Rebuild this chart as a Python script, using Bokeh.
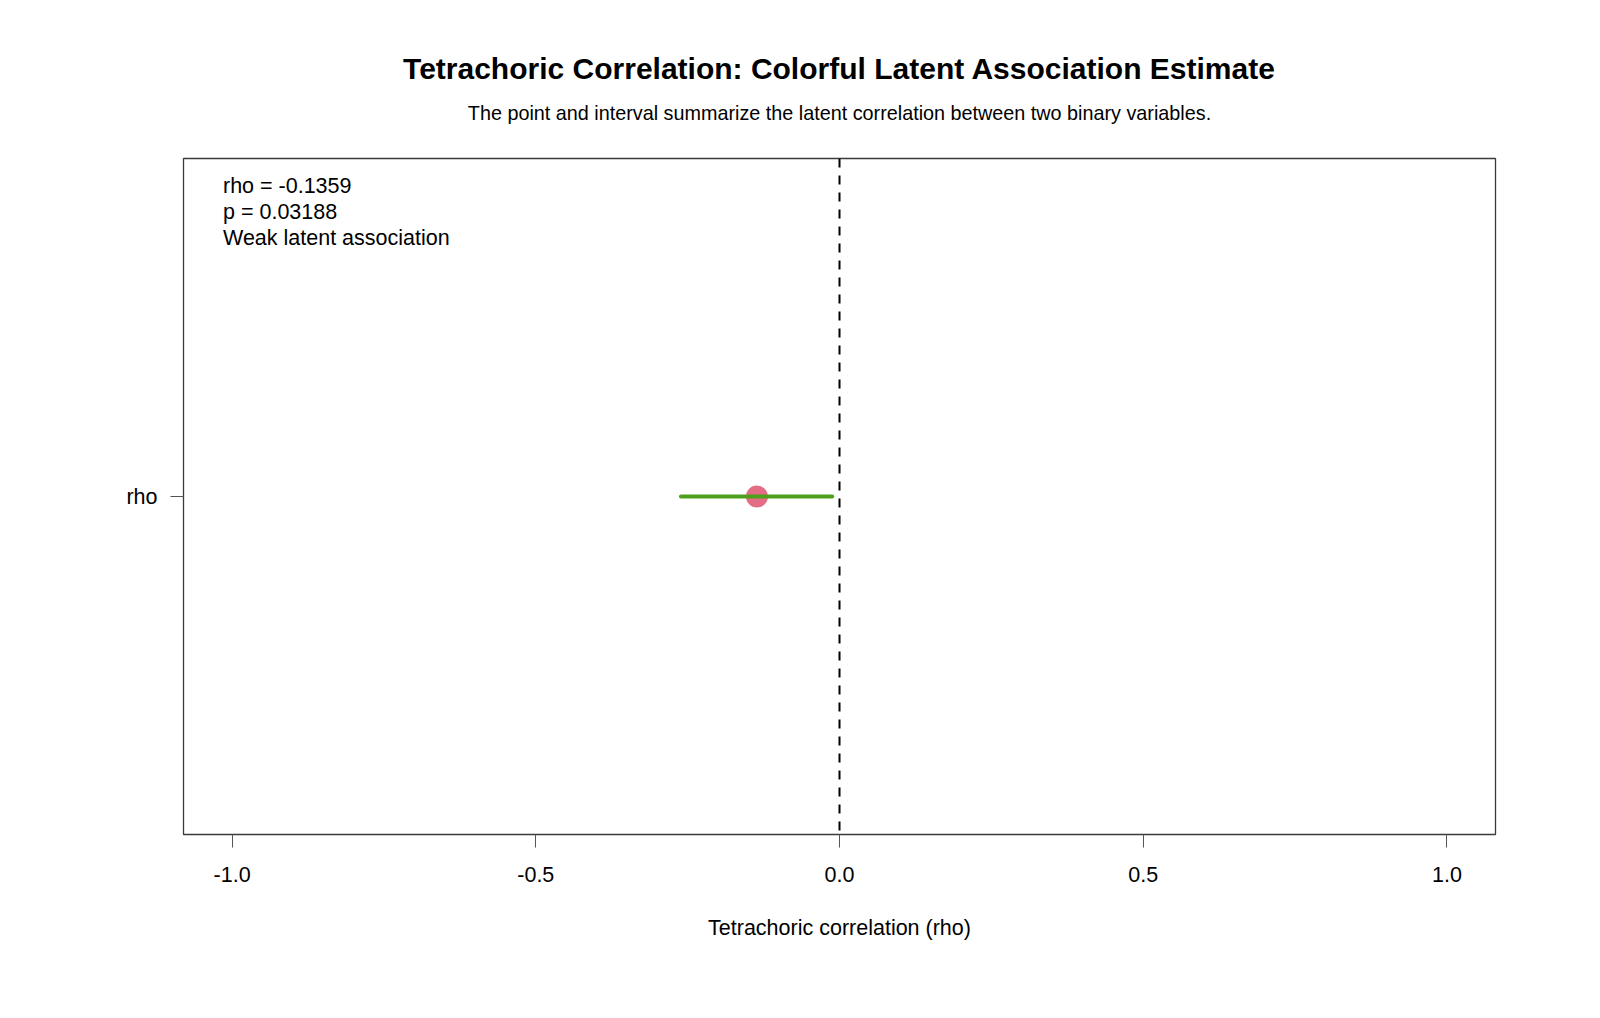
from bokeh.plotting import figure
from bokeh.models import (FactorRange, Range1d, Span, Label, FixedTicker,
                          PrintfTickFormatter, ColumnDataSource, Title)
from bokeh.embed import file_html
from bokeh.resources import INLINE

# Tetrachoric correlation estimate with its confidence interval
labels = ["rho"]
estimates = [-0.1359]
ci_lower = [-0.261]
ci_upper = [-0.012]
p_values = [0.03188]
strength = ["Weak latent association"]
x_ticks = [-1.0, -0.5, 0.0, 0.5, 1.0]

FONT = "Liberation Sans"
W, H = 1600, 1018
LEFT, RIGHT, TOP, BOTTOM = 183, 105, 158, 184
frame_h = H - TOP - BOTTOM

src = ColumnDataSource(dict(label=labels, est=estimates, lo=ci_lower, hi=ci_upper))

p = figure(width=W, height=H, output_backend="svg", toolbar_location=None,
           x_range=Range1d(-1.08, 1.08),
           y_range=FactorRange(factors=labels, range_padding=0),
           min_border_left=LEFT, min_border_right=RIGHT,
           min_border_top=TOP, min_border_bottom=BOTTOM,
           background_fill_color="white", border_fill_color="white")

p.outline_line_color = "#3a3a3a"
p.outline_line_width = 1.3
p.xgrid.visible = False
p.ygrid.visible = False

# reference line at zero correlation
p.add_layout(Span(location=0, dimension="height", line_color="black",
                  line_width=2, line_dash="9 8"))

# point estimate, then the interval on top
p.scatter("est", "label", source=src, size=22, fill_color="#E36D85",
          line_color=None)
p.segment(x0="lo", y0="label", x1="hi", y1="label", source=src,
          line_color="#4E9F1B", line_width=4, line_cap="round")

# axes
xa = p.xaxis[0]
xa.ticker = FixedTicker(ticks=x_ticks)
xa.formatter = PrintfTickFormatter(format="%.1f")
xa.axis_line_color = None
xa.major_tick_line_color = "#555555"
xa.major_tick_in = 0
xa.major_tick_out = 13
xa.minor_tick_line_color = None
xa.major_label_text_font = FONT
xa.major_label_text_font_size = "21.5px"
xa.major_label_text_color = "black"
xa.major_label_standoff = 19
xa.axis_label = "Tetrachoric correlation (rho)"
xa.axis_label_text_font = FONT
xa.axis_label_text_font_size = "21.5px"
xa.axis_label_text_font_style = "normal"
xa.axis_label_text_color = "black"
xa.axis_label_standoff = 31

ya = p.yaxis[0]
ya.axis_line_color = None
ya.major_tick_line_color = "#555555"
ya.major_tick_in = 0
ya.major_tick_out = 13
ya.minor_tick_line_color = None
ya.major_label_text_font = FONT
ya.major_label_text_font_size = "21.5px"
ya.major_label_text_color = "black"
ya.major_label_standoff = 13

# gap between the frame and the subtitle
p.add_layout(Title(text=" ", text_font=FONT, text_font_size="2px",
                   align="center", standoff=30.6), "above")
# subtitle, then the main title above it
p.add_layout(Title(text="The point and interval summarize the latent correlation between two binary variables.",
                   text_font=FONT, text_font_size="19.8px", text_font_style="normal",
                   text_color="black", align="center", standoff=0), "above")
p.add_layout(Title(text="Tetrachoric Correlation: Colorful Latent Association Estimate",
                   text_font=FONT, text_font_size="30px", text_font_style="bold",
                   text_color="black", align="center", standoff=28.8), "above")

# annotation block in the upper-left corner of the panel
notes = [f"rho = {estimates[0]:.4f}", f"p = {p_values[0]:.5f}", strength[0]]
for i, t in enumerate(notes):
    base = 185.7 + i * 25.8
    p.add_layout(Label(x=39.5, y=frame_h - (base - TOP), x_units="screen", y_units="screen",
                       text=t, text_font=FONT, text_font_size="21.5px",
                       text_align="left", text_baseline="alphabetic", text_color="black"))

open("out.html", "w").write(file_html(p, INLINE))
